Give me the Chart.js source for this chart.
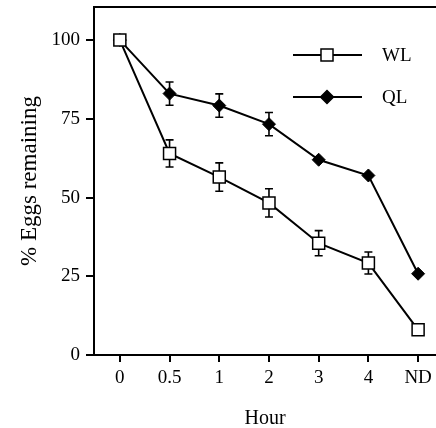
<!DOCTYPE html>
<html>
<head>
<meta charset="utf-8">
<script src="https://cdn.jsdelivr.net/npm/chart.js@4/dist/chart.umd.min.js"></script>
<style>
  html, body { margin: 0; padding: 0; background: #fff; overflow: hidden; }
  #wrap { width: 436px; height: 428px; overflow: hidden; position: relative; }
  /* line charts keep 10px round the plot for the markers; shift it so the frame runs off the right edge */
  #chart { position: absolute; left: 0; top: -3px; }
</style>
</head>
<body>
<div id="wrap"><canvas id="chart" width="446" height="431"></canvas></div>
<script>
const hours = ["0", "0.5", "1", "2", "3", "4", "ND"];
const wl = [100, 64, 56.5, 48.3, 35.5, 29.2, 8];
const wlErr = [0, 4.3, 4.5, 4.5, 4, 3.5, 0];
const ql = [100, 83, 79.2, 73.3, 62, 57, 25.8];
const qlErr = [0, 3.7, 3.7, 3.7, 0, 0, 0];
const yTicks = [0, 25, 50, 75, 100];

const FONT = "'Liberation Serif', 'DejaVu Serif', serif";

// error bars go under the markers, frame top + legend on top
const extras = {
  id: "extras",
  beforeDatasetsDraw(chart) {
    const c = chart.ctx, xs = chart.scales.x, ys = chart.scales.y;
    c.save();
    c.strokeStyle = "#000";
    c.lineWidth = 1.6;
    [[wl, wlErr], [ql, qlErr]].forEach(([vals, errs]) => {
      vals.forEach((v, i) => {
        if (!errs[i]) return;
        const x = xs.getPixelForValue(i);
        const t = ys.getPixelForValue(v + errs[i]);
        const b = ys.getPixelForValue(v - errs[i]);
        c.beginPath();
        c.moveTo(x, t); c.lineTo(x, b);
        c.moveTo(x - 4, t); c.lineTo(x + 4, t);
        c.moveTo(x - 4, b); c.lineTo(x + 4, b);
        c.stroke();
      });
    });
    c.restore();
  },
  afterDraw(chart) {
    const c = chart.ctx, a = chart.chartArea;
    c.save();
    c.strokeStyle = "#000";
    c.lineWidth = 2;
    c.beginPath();
    c.moveTo(a.left, a.top); c.lineTo(a.right, a.top);
    c.stroke();

    // legend (canvas y is 3px below page y)
    const items = [
      { label: "WL", y: 58, style: "rect", fill: "#fff", r: 8.5 },
      { label: "QL", y: 100, style: "rectRot", fill: "#000", r: 6.5 }
    ];
    items.forEach(it => {
      c.lineWidth = 2;
      c.beginPath();
      c.moveTo(293, it.y); c.lineTo(362, it.y);
      c.stroke();
      c.fillStyle = it.fill;
      c.lineWidth = 1.5;
      Chart.helpers.drawPoint(c, { pointStyle: it.style, radius: it.r, borderWidth: 1.5 }, 327, it.y);
      c.fillStyle = "#000";
      c.font = "19px " + FONT;
      c.textBaseline = "middle";
      c.fillText(it.label, 382, it.y + 1);
    });
    c.restore();
  }
};

new Chart(document.getElementById("chart"), {
  type: "line",
  data: {
    datasets: [
      {
        label: "WL",
        data: wl.map((v, i) => ({ x: i, y: v })),
        borderColor: "#000",
        borderWidth: 2,
        pointStyle: "rect",
        pointRadius: 8.5,
        pointBackgroundColor: "#fff",
        pointBorderColor: "#000",
        pointBorderWidth: 1.5
      },
      {
        label: "QL",
        data: ql.map((v, i) => ({ x: i, y: v })),
        borderColor: "#000",
        borderWidth: 2,
        pointStyle: "rectRot",
        pointRadius: 6.5,
        pointBackgroundColor: "#000",
        pointBorderColor: "#000",
        pointBorderWidth: 1
      }
    ]
  },
  options: {
    responsive: false,
    animation: false,
    layout: { padding: 0 },
    plugins: { legend: { display: false }, tooltip: { enabled: false } },
    elements: { line: { tension: 0 } },
    scales: {
      x: {
        type: "linear",
        min: -0.52,
        max: 6.36,
        afterBuildTicks: s => { s.ticks = hours.map((h, i) => ({ value: i })); },
        afterFit: s => { s.height = 73; s.paddingLeft = 0; s.paddingRight = 0; },
        ticks: {
          callback: v => hours[v],
          color: "#000",
          font: { family: FONT, size: 19 },
          padding: 5,
          maxRotation: 0,
          autoSkip: false
        },
        grid: { drawOnChartArea: false, drawTicks: true, tickLength: 7, color: "#000", lineWidth: 2 },
        border: { color: "#000", width: 2 },
        title: { display: true, text: "Hour", color: "#000", font: { family: FONT, size: 20 }, padding: { top: 20, bottom: -3 } }
      },
      y: {
        min: 0,
        max: 110.5,
        afterBuildTicks: s => { s.ticks = yTicks.map(v => ({ value: v })); },
        afterFit: s => { s.width = 94; s.paddingTop = 0; s.paddingBottom = 0; },
        ticks: {
          color: "#000",
          font: { family: FONT, size: 19 },
          padding: 6
        },
        grid: { drawOnChartArea: false, drawTicks: true, tickLength: 8, color: "#000", lineWidth: 2 },
        border: { color: "#000", width: 2 },
        title: { display: true, text: "% Eggs remaining", color: "#000", font: { family: FONT, size: 23 }, padding: { top: 16, bottom: 6 } }
      }
    }
  },
  plugins: [extras]
});
</script>
</body>
</html>
